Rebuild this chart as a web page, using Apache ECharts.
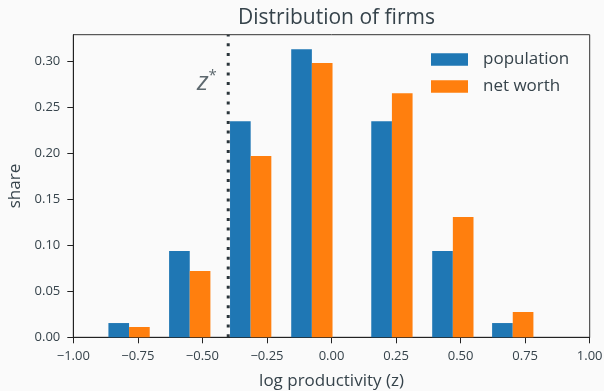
<!DOCTYPE html>
<html>
<head>
<meta charset="utf-8">
<script src="https://cdn.jsdelivr.net/npm/echarts@6/dist/echarts.min.js"></script>
<style>
html,body{margin:0;padding:0;background:#fafafa;}
#chart{width:604px;height:391px;}
</style>
</head>
<body>
<div id="chart"></div>
<script>
// ---- data ----
const zCenters   = [-0.784, -0.549, -0.313, -0.076, 0.234, 0.470, 0.702];
const population = [0.0155, 0.0938, 0.2351, 0.3134, 0.2351, 0.0938, 0.0155];
const netWorth   = [0.0112, 0.0721, 0.1971, 0.2982, 0.2655, 0.1308, 0.0275];
const zStar = -0.40;
const xTicks = [-1.0, -0.75, -0.5, -0.25, 0, 0.25, 0.5, 0.75, 1.0];
const yTicks = [0, 0.05, 0.10, 0.15, 0.20, 0.25, 0.30];
const seriesNames = ['population', 'net worth'];

// ---- styling / layout constants ----
const BAR_W = 0.08;
const Y_MAX = 0.3291;
const TXT = '#36434b';
const FONT = 'Open Sans';
const BLUE = '#1f77b4', ORANGE = '#ff7f0e';

function barSeries(name, vals, color, side) {
  return {
    name: name,
    type: 'custom',
    color: color,
    itemStyle: {color: color},
    data: zCenters.map((z, i) => [z, vals[i]]),
    encode: {x: 0, y: 1},
    renderItem: function (params, api) {
      const z = api.value(0), v = api.value(1);
      const x0 = side < 0 ? z - BAR_W : z;
      const x1 = side < 0 ? z : z + BAR_W;
      const p0 = api.coord([x0, v]);
      const p1 = api.coord([x1, 0]);
      return {
        type: 'rect',
        shape: {x: p0[0], y: p0[1], width: p1[0] - p0[0], height: p1[1] - p0[1]},
        style: {fill: color, stroke: null, lineWidth: 0}
      };
    },
    z: 3
  };
}

const chart = echarts.init(document.getElementById('chart'), null, {renderer: 'canvas'});
chart.setOption({
  backgroundColor: '#fafafa',
  animation: false,
  textStyle: {fontFamily: FONT, color: TXT},
  title: {
    text: 'Distribution of firms',
    left: 331.5, textAlign: 'center', top: 3,
    textStyle: {fontFamily: FONT, fontSize: 21, fontWeight: 'normal', color: TXT}
  },
  legend: {
    orient: 'vertical',
    left: 431, top: 51,
    padding: 0,
    icon: 'rect',
    itemWidth: 37, itemHeight: 12.4,
    itemGap: 10,
    data: seriesNames,
    textStyle: {fontFamily: FONT, fontSize: 17, color: TXT, lineHeight: 17, padding: [0, 0, 0, 10]}
  },
  grid: {
    left: 73.3, right: 14.3, top: 34.7, bottom: 53.7,
    outerBoundsMode: 'none', containLabel: false,
    show: true, borderColor: '#333', borderWidth: 1, backgroundColor: 'transparent'
  },
  xAxis: {
    type: 'value', min: -1, max: 1, interval: 0.25,
    name: 'log productivity (z)', nameLocation: 'middle', nameGap: 35,
    nameTextStyle: {fontFamily: FONT, fontSize: 17, color: TXT},
    axisLine: {show: true, onZero: false, lineStyle: {color: '#222', width: 1}},
    axisTick: {show: true, length: 6, lineStyle: {color: '#222'}},
    splitLine: {show: false},
    axisLabel: {
      fontFamily: FONT, fontSize: 13, color: TXT, margin: 12,
      customValues: xTicks,
      formatter: v => (v < 0 ? '\u2212' : '') + Math.abs(v).toFixed(2)
    }
  },
  yAxis: {
    type: 'value', min: 0, max: Y_MAX, interval: 0.05,
    name: 'share', nameLocation: 'middle', nameGap: 50, nameRotate: 90,
    nameTextStyle: {fontFamily: FONT, fontSize: 17, color: TXT},
    axisLine: {show: true, onZero: false, lineStyle: {color: '#222', width: 1}},
    axisTick: {show: true, length: 6, lineStyle: {color: '#222'}, customValues: yTicks},
    splitLine: {show: false},
    axisLabel: {
      fontFamily: FONT, fontSize: 13, color: TXT, margin: 13,
      customValues: yTicks,
      formatter: v => v.toFixed(2)
    }
  },
  series: [
    barSeries(seriesNames[0], population, BLUE, -1),
    barSeries(seriesNames[1], netWorth, ORANGE, 1),
    {
      type: 'line',
      data: [[zStar, 0], [zStar, Y_MAX]],
      symbol: 'none',
      silent: true,
      lineStyle: {color: '#2b353b', width: 3, type: [3, 6.7]},
      z: 2
    },
    {
      type: 'scatter',
      data: [[-0.483, 0.2775]],
      symbolSize: 0,
      silent: true,
      label: {
        show: true, position: 'inside',
        formatter: '{z|z}{s|*}',
        rich: {
          z: {fontFamily: FONT, fontSize: 26, fontStyle: 'italic', color: TXT, verticalAlign: 'bottom'},
          s: {fontFamily: FONT, fontSize: 15, color: TXT, verticalAlign: 'top', padding: [0, 0, 12, 0]}
        }
      }
    }
  ]
});
</script>
</body>
</html>
